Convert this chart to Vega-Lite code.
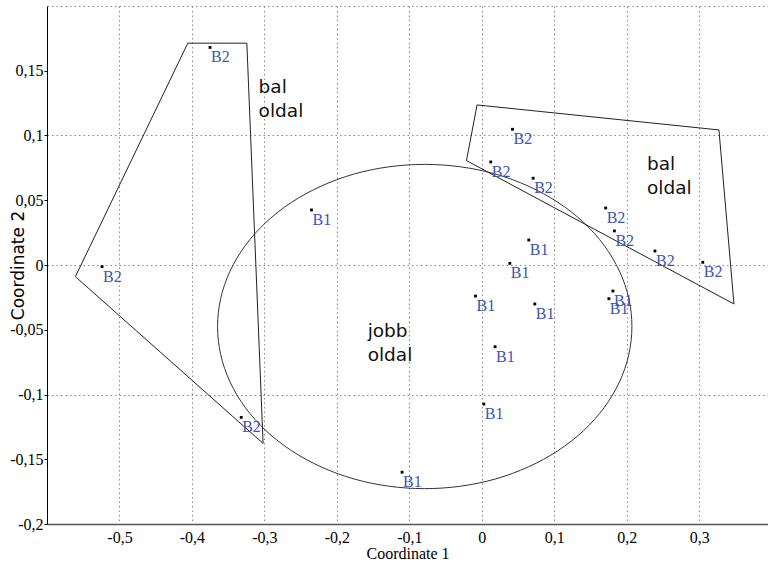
{
  "$schema": "https://vega.github.io/schema/vega-lite/v6.json",
  "autosize": {"type": "none"},
  "padding": {"left": 47, "top": 6, "right": 0, "bottom": 41},
  "width": 721,
  "height": 518,
  "background": "white",
  "config": {"view": {"stroke": null}},
  "datasets": {
    "points": [
      {"x": -0.375, "y": 0.168, "g": "B2"},
      {"x": -0.524, "y": -0.0013, "g": "B2"},
      {"x": -0.332, "y": -0.1177, "g": "B2"},
      {"x": 0.0424, "y": 0.1048, "g": "B2"},
      {"x": 0.0124, "y": 0.0796, "g": "B2"},
      {"x": 0.0709, "y": 0.067, "g": "B2"},
      {"x": 0.171, "y": 0.044, "g": "B2"},
      {"x": 0.183, "y": 0.0263, "g": "B2"},
      {"x": 0.239, "y": 0.0108, "g": "B2"},
      {"x": 0.305, "y": 0.0021, "g": "B2"},
      {"x": -0.235, "y": 0.0425, "g": "B1"},
      {"x": -0.11, "y": -0.16, "g": "B1"},
      {"x": -0.0087, "y": -0.024, "g": "B1"},
      {"x": 0.0732, "y": -0.0301, "g": "B1"},
      {"x": 0.0184, "y": -0.0631, "g": "B1"},
      {"x": 0.0028, "y": -0.1074, "g": "B1"},
      {"x": 0.0649, "y": 0.0193, "g": "B1"},
      {"x": 0.0387, "y": 0.0013, "g": "B1"},
      {"x": 0.181, "y": -0.0201, "g": "B1"},
      {"x": 0.1754, "y": -0.026, "g": "B1"}
    ],
    "hullL": [
      {"i": 0, "x": -0.4057, "y": 0.1713},
      {"i": 1, "x": -0.3242, "y": 0.1713},
      {"i": 2, "x": -0.3018, "y": -0.1378},
      {"i": 3, "x": -0.5608, "y": -0.009}
    ],
    "hullR": [
      {"i": 0, "x": -0.0065, "y": 0.1236},
      {"i": 1, "x": 0.3273, "y": 0.1043},
      {"i": 2, "x": 0.348, "y": -0.0301},
      {"i": 3, "x": -0.0211, "y": 0.0806}
    ],
    "ellipse": [
      {"i": 0, "x": 0.2072, "y": -0.0475},
      {"i": 1, "x": 0.2029, "y": -0.0258},
      {"i": 2, "x": 0.19, "y": -0.0047},
      {"i": 3, "x": 0.1689, "y": 0.0151},
      {"i": 4, "x": 0.1403, "y": 0.033},
      {"i": 5, "x": 0.1051, "y": 0.0484},
      {"i": 6, "x": 0.0643, "y": 0.0609},
      {"i": 7, "x": 0.0191, "y": 0.0702},
      {"i": 8, "x": -0.0291, "y": 0.0758},
      {"i": 9, "x": -0.0787, "y": 0.0777},
      {"i": 10, "x": -0.1283, "y": 0.0758},
      {"i": 11, "x": -0.1765, "y": 0.0702},
      {"i": 12, "x": -0.2217, "y": 0.0609},
      {"i": 13, "x": -0.2625, "y": 0.0484},
      {"i": 14, "x": -0.2977, "y": 0.033},
      {"i": 15, "x": -0.3263, "y": 0.0151},
      {"i": 16, "x": -0.3474, "y": -0.0047},
      {"i": 17, "x": -0.3603, "y": -0.0258},
      {"i": 18, "x": -0.3646, "y": -0.0475},
      {"i": 19, "x": -0.3603, "y": -0.0692},
      {"i": 20, "x": -0.3474, "y": -0.0903},
      {"i": 21, "x": -0.3263, "y": -0.1101},
      {"i": 22, "x": -0.2977, "y": -0.128},
      {"i": 23, "x": -0.2625, "y": -0.1434},
      {"i": 24, "x": -0.2217, "y": -0.1559},
      {"i": 25, "x": -0.1765, "y": -0.1652},
      {"i": 26, "x": -0.1283, "y": -0.1708},
      {"i": 27, "x": -0.0787, "y": -0.1727},
      {"i": 28, "x": -0.0291, "y": -0.1708},
      {"i": 29, "x": 0.0191, "y": -0.1652},
      {"i": 30, "x": 0.0643, "y": -0.1559},
      {"i": 31, "x": 0.1051, "y": -0.1434},
      {"i": 32, "x": 0.1403, "y": -0.128},
      {"i": 33, "x": 0.1689, "y": -0.1101},
      {"i": 34, "x": 0.19, "y": -0.0903},
      {"i": 35, "x": 0.2029, "y": -0.0692}
    ],
    "notes": [
      {"x": -0.308, "y": 0.1329, "t": ["bal", "oldal"]},
      {"x": 0.228, "y": 0.0734, "t": ["bal", "oldal"]},
      {"x": -0.1575, "y": -0.0554, "t": ["jobb", "oldal"]}
    ]
  },
  "encoding": {
    "x": {
      "field": "x", "type": "quantitative",
      "scale": {"domain": [-0.6, 0.395], "nice": false, "zero": false},
      "axis": {
        "values": [-0.5, -0.4, -0.3, -0.2, -0.1, 0, 0.1, 0.2, 0.3],
        "labelExpr": "replace(toString(datum.value), '.', ',')",
        "grid": true, "gridDash": [1.5, 3], "gridColor": "#888", "gridWidth": 1,
        "ticks": false,
        "domainColor": "#555", "domainWidth": 1.5,
        "labelFont": "Liberation Serif", "labelFontSize": 16, "labelColor": "#000",
        "labelPadding": 5,
        "title": "Coordinate 1",
        "titleFont": "Liberation Serif", "titleFontSize": 16, "titleFontWeight": "normal", "titleColor": "#000",
        "titlePadding": 0
      }
    },
    "y": {
      "field": "y", "type": "quantitative",
      "scale": {"domain": [-0.2, 0.2], "nice": false, "zero": false},
      "axis": {
        "values": [-0.2, -0.15, -0.1, -0.05, 0, 0.05, 0.1, 0.15, 0.2],
        "labelExpr": "datum.value > 0.19 ? '' : replace(toString(datum.value), '.', ',')",
        "grid": true, "gridDash": [1.5, 3], "gridColor": "#888", "gridWidth": 1,
        "gridOpacity": {"condition": {"test": "abs(datum.value * 10 - round(datum.value * 10)) < 0.001", "value": 1}, "value": 0},
        "ticks": true, "tickSize": 3, "tickColor": "#000",
        "tickOpacity": {"condition": {"test": "datum.value > 0.19", "value": 0}, "value": 1},
        "domainColor": "#000", "domainWidth": 1,
        "labelFont": "Liberation Serif", "labelFontSize": 16, "labelColor": "#000",
        "labelPadding": 1,
        "title": "Coordinate 2",
        "titleFont": "DejaVu Sans", "titleFontSize": 17, "titleFontWeight": "normal", "titleColor": "#000",
        "titleX": -29, "titleY": 259, "titleAngle": -90, "titleAlign": "center", "titleBaseline": "middle"
      }
    }
  },
  "layer": [
    {
      "data": {"name": "ellipse"},
      "mark": {"type": "line", "interpolate": "cardinal-closed", "stroke": "#333", "strokeWidth": 1},
      "encoding": {"order": {"field": "i", "type": "quantitative"}}
    },
    {
      "data": {"name": "hullL"},
      "mark": {"type": "line", "interpolate": "linear-closed", "stroke": "#222", "strokeWidth": 1},
      "encoding": {"order": {"field": "i", "type": "quantitative"}}
    },
    {
      "data": {"name": "hullR"},
      "mark": {"type": "line", "interpolate": "linear-closed", "stroke": "#222", "strokeWidth": 1},
      "encoding": {"order": {"field": "i", "type": "quantitative"}}
    },
    {
      "data": {"name": "points"},
      "mark": {"type": "point", "shape": "square", "filled": true, "size": 8, "color": "#000", "opacity": 1}
    },
    {
      "data": {"name": "points"},
      "mark": {"type": "text", "align": "left", "baseline": "alphabetic", "dx": 1, "dy": 15, "font": "Liberation Serif", "fontSize": 16, "color": "#3a55b4"},
      "encoding": {"text": {"field": "g"}}
    },
    {
      "data": {"name": "notes"},
      "mark": {"type": "text", "align": "left", "baseline": "alphabetic", "font": "DejaVu Sans", "fontSize": 18.5, "lineHeight": 24, "color": "#111"},
      "encoding": {"text": {"field": "t"}}
    }
  ]
}
